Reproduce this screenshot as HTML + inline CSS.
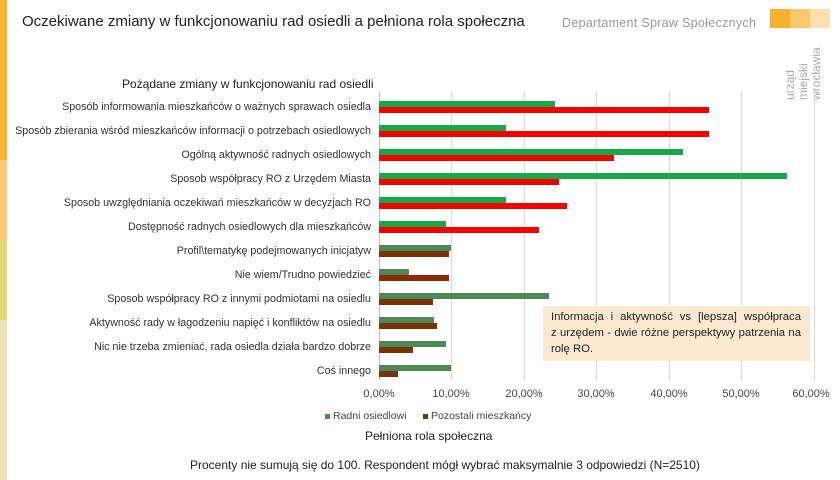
<!DOCTYPE html><html><head><meta charset="utf-8"><style>
body{margin:0;width:840px;height:480px;position:relative;background:#fff;font-family:"Liberation Sans",sans-serif;overflow:hidden;color:#222}
.a{position:absolute}
.l{position:absolute;right:469px;font-size:10.7px;color:#333;white-space:nowrap;line-height:12px}
.g{position:absolute;width:1px;top:92px;height:288px;background:#d9d9d9}
.b{position:absolute;height:6px}
.t{position:absolute;top:388px;font-size:11px;color:#444;transform:translateX(-50%)}
</style></head><body>
<div class="a" style="left:0;top:0;width:7px;height:160px;background:#f7b12c"></div>
<div class="a" style="left:0;top:160px;width:7px;height:80px;background:#fcc870"></div>
<div class="a" style="left:0;top:240px;width:7px;height:80px;background:#e2d774"></div>
<div class="a" style="left:0;top:320px;width:7px;height:160px;background:#f0e6b0"></div>
<div class="a" style="left:22px;top:13px;font-size:15px">Oczekiwane zmiany w funkcjonowaniu rad osiedli a pełniona rola społeczna</div>
<div class="a" style="left:562px;top:16px;font-size:12.5px;color:#999;letter-spacing:0.3px">Departament Spraw Społecznych</div>
<div class="a" style="left:770px;top:9px;width:20px;height:19px;background:#f7b12c"></div>
<div class="a" style="left:790px;top:9px;width:20px;height:19px;background:#fbc870"></div>
<div class="a" style="left:810px;top:9px;width:20px;height:19px;background:#fde0b0"></div>
<div class="a" style="left:784px;top:38px;width:50px;height:62px;color:#aaa;font-size:12px;line-height:13px;writing-mode:vertical-rl;transform:rotate(180deg);text-align:left">urząd<br>miejski<br>wrocławia</div>
<div class="a" style="left:122px;top:77px;font-size:12px">Pożądane zmiany w funkcjonowaniu rad osiedli</div>
<div class="g" style="left:379px;background:#bbb"></div><div class="g" style="left:451px"></div><div class="g" style="left:524px"></div><div class="g" style="left:596px"></div><div class="g" style="left:669px"></div><div class="g" style="left:741px"></div><div class="g" style="left:814px"></div>
<div class="l" style="top:101px">Sposób informowania mieszkańców o ważnych sprawach osiedla</div>
<div class="l" style="top:125px">Sposób zbierania wśród mieszkańców informacji o potrzebach osiedlowych</div>
<div class="l" style="top:149px">Ogólną aktywność radnych osiedlowych</div>
<div class="l" style="top:173px">Sposob współpracy RO z Urzędem Miasta</div>
<div class="l" style="top:197px">Sposob uwzględniania oczekiwań mieszkańców w decyzjach RO</div>
<div class="l" style="top:221px">Dostępność radnych osiedlowych dla mieszkańców</div>
<div class="l" style="top:245px">Profil\tematykę podejmowanych inicjatyw</div>
<div class="l" style="top:269px">Nie wiem/Trudno powiedzieć</div>
<div class="l" style="top:293px">Sposob współpracy RO z innymi podmiotami na osiedlu</div>
<div class="l" style="top:317px">Aktywność rady w łagodzeniu napięć i konfliktów na osiedlu</div>
<div class="l" style="top:341px">Nic nie trzeba zmieniać, rada osiedla działa bardzo dobrze</div>
<div class="l" style="top:365px">Coś innego</div>
<div class="b" style="left:379px;top:101px;width:176px;background:#1aa64a"></div><div class="b" style="left:379px;top:107px;width:330px;background:#f40000"></div>
<div class="b" style="left:379px;top:125px;width:127px;background:#1aa64a"></div><div class="b" style="left:379px;top:131px;width:330px;background:#f40000"></div>
<div class="b" style="left:379px;top:149px;width:304px;background:#1aa64a"></div><div class="b" style="left:379px;top:155px;width:235px;background:#f40000"></div>
<div class="b" style="left:379px;top:173px;width:408px;background:#1aa64a"></div><div class="b" style="left:379px;top:179px;width:180px;background:#f40000"></div>
<div class="b" style="left:379px;top:197px;width:127px;background:#1aa64a"></div><div class="b" style="left:379px;top:203px;width:188px;background:#f40000"></div>
<div class="b" style="left:379px;top:221px;width:67px;background:#1aa64a"></div><div class="b" style="left:379px;top:227px;width:160px;background:#f40000"></div>
<div class="b" style="left:379px;top:245px;width:72px;background:#4e8a55"></div><div class="b" style="left:379px;top:251px;width:70px;background:#7a3208"></div>
<div class="b" style="left:379px;top:269px;width:30px;background:#4e8a55"></div><div class="b" style="left:379px;top:275px;width:70px;background:#8a2a08"></div>
<div class="b" style="left:379px;top:293px;width:170px;background:#4e8a55"></div><div class="b" style="left:379px;top:299px;width:54px;background:#7a3208"></div>
<div class="b" style="left:379px;top:317px;width:55px;background:#4e8a55"></div><div class="b" style="left:379px;top:323px;width:58px;background:#7a3208"></div>
<div class="b" style="left:379px;top:341px;width:67px;background:#4e8a55"></div><div class="b" style="left:379px;top:347px;width:34px;background:#7a3208"></div>
<div class="b" style="left:379px;top:365px;width:72px;background:#4e8a55"></div><div class="b" style="left:379px;top:371px;width:19px;background:#7a3208"></div>
<div class="a" style="left:543px;top:306px;width:250px;height:52px;background:#fbe9d2;padding:3px 9px 0 8px;font-size:11.3px;line-height:16px;color:#222;text-align:justify">Informacja i aktywność vs [lepsza] współpraca z&nbsp;urzędem - dwie różne perspektywy patrzenia na rolę RO.</div>
<div class="t" style="left:379px">0,00%</div><div class="t" style="left:451px">10,00%</div><div class="t" style="left:524px">20,00%</div><div class="t" style="left:596px">30,00%</div><div class="t" style="left:669px">40,00%</div><div class="t" style="left:741px">50,00%</div><div class="t" style="left:811px">60,00%</div>
<div class="a" style="left:325px;top:414px;width:5px;height:5px;background:#4e8a55"></div>
<div class="a" style="left:333px;top:410px;font-size:10.5px;color:#444">Radni osiedlowi</div>
<div class="a" style="left:423px;top:414px;width:5px;height:5px;background:#7a3208"></div>
<div class="a" style="left:431px;top:410px;font-size:10.5px;color:#444">Pozostali mieszkańcy</div>
<div class="a" style="left:365px;top:429px;font-size:12px">Pełniona rola społeczna</div>
<div class="a" style="left:190px;top:458px;font-size:12px">Procenty nie sumują się do 100. Respondent mógł wybrać maksymalnie 3 odpowiedzi (N=2510)</div>
</body></html>
